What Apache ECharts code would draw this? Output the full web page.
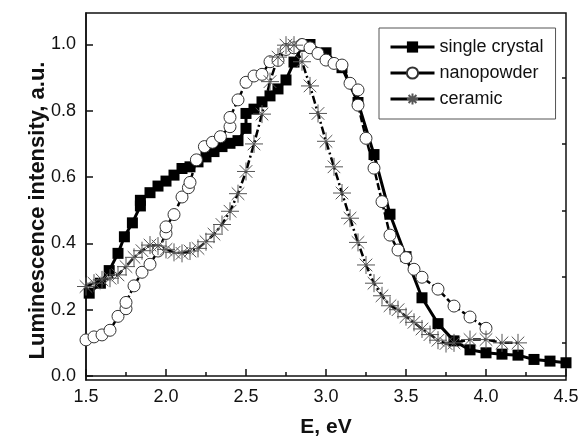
<!DOCTYPE html>
<html>
<head>
<meta charset="utf-8">
<script src="https://cdn.jsdelivr.net/npm/echarts@6/dist/echarts.min.js"></script>
<style>
  html, body { margin: 0; padding: 0; background: #fff; }
  #chart { width: 582px; height: 436px; }
</style>
</head>
<body>
<div id="chart"></div>
<script>
// single crystal
var scX = [1.52, 1.59, 1.645, 1.70, 1.74, 1.79, 1.84, 1.84, 1.90, 1.95, 2.0, 2.05, 2.10, 2.15, 2.20, 2.25, 2.30, 2.35, 2.40, 2.45, 2.50, 2.50, 2.55, 2.60, 2.65, 2.70, 2.75, 2.80, 2.85, 2.90, 3.0, 3.1, 3.2, 3.3, 3.4, 3.5, 3.6, 3.7, 3.8, 3.9, 4.0, 4.1, 4.2, 4.3, 4.4, 4.5];
var scY = [0.25, 0.28, 0.318, 0.37, 0.42, 0.462, 0.513, 0.53, 0.553, 0.573, 0.588, 0.606, 0.626, 0.631, 0.646, 0.661, 0.677, 0.692, 0.702, 0.71, 0.747, 0.792, 0.805, 0.827, 0.845, 0.866, 0.893, 0.947, 0.995, 1.0, 0.975, 0.93, 0.825, 0.668, 0.488, 0.36, 0.236, 0.158, 0.106, 0.079, 0.07, 0.066, 0.063, 0.05, 0.045, 0.04];
// nanopowder
var npX = [1.5, 1.55, 1.6, 1.65, 1.7, 1.75, 1.75, 1.8, 1.85, 1.9, 1.95, 2.0, 2.0, 2.05, 2.1, 2.14, 2.15, 2.19, 2.24, 2.29, 2.34, 2.4, 2.4, 2.45, 2.5, 2.55, 2.6, 2.65, 2.7, 2.75, 2.8, 2.85, 2.9, 2.95, 3.0, 3.05, 3.1, 3.15, 3.2, 3.2, 3.25, 3.3, 3.35, 3.4, 3.45, 3.5, 3.55, 3.6, 3.7, 3.8, 3.9, 4.0];
var npY = [0.109, 0.118, 0.124, 0.138, 0.18, 0.203, 0.222, 0.272, 0.313, 0.337, 0.377, 0.43, 0.45, 0.487, 0.54, 0.568, 0.584, 0.652, 0.692, 0.705, 0.722, 0.752, 0.78, 0.833, 0.886, 0.905, 0.91, 0.948, 0.952, 0.985, 0.99, 1.0, 0.99, 0.973, 0.953, 0.943, 0.938, 0.883, 0.863, 0.817, 0.717, 0.627, 0.526, 0.425, 0.38, 0.357, 0.322, 0.298, 0.262, 0.211, 0.178, 0.144];
// ceramic
var ceX = [1.5, 1.55, 1.6, 1.65, 1.7, 1.75, 1.8, 1.85, 1.9, 1.95, 2.0, 2.05, 2.1, 2.15, 2.2, 2.25, 2.3, 2.35, 2.4, 2.45, 2.5, 2.55, 2.6, 2.65, 2.7, 2.75, 2.8, 2.85, 2.9, 2.95, 3.0, 3.05, 3.1, 3.15, 3.2, 3.25, 3.3, 3.35, 3.4, 3.45, 3.5, 3.55, 3.6, 3.65, 3.7, 3.75, 3.8, 3.9, 4.0, 4.1, 4.2];
var ceY = [0.27, 0.28, 0.29, 0.295, 0.305, 0.33, 0.358, 0.378, 0.395, 0.392, 0.382, 0.373, 0.37, 0.377, 0.385, 0.405, 0.428, 0.457, 0.497, 0.55, 0.617, 0.70, 0.79, 0.888, 0.962, 0.998, 0.998, 0.948, 0.875, 0.792, 0.708, 0.631, 0.552, 0.476, 0.403, 0.335, 0.28, 0.242, 0.212, 0.2, 0.179, 0.162, 0.142, 0.125, 0.108, 0.098, 0.1, 0.11, 0.11, 0.1, 0.1];

var yTicks = [0, 0.2, 0.4, 0.6, 0.8, 1.0];
var yMinorTicks = [0.1, 0.3, 0.5, 0.7, 0.9];

function pairs(xs, ys) {
  return xs.map(function (x, i) { return [x, ys[i]]; });
}

var font = "'Liberation Sans', Arial, sans-serif";
// asterisk marker, 8 arms
var star = "path://M0,-10L0,10M-10,0L10,0M-7,-7L7,7M-7,7L7,-7";

var myChart = echarts.init(document.getElementById("chart"));
myChart.setOption({
  animation: false,
  textStyle: { fontFamily: font, color: "#111" },
  grid: {
    left: 86, right: 16, top: 13, bottom: 56,
    outerBoundsMode: "none",
    show: true, borderColor: "#111", borderWidth: 1.5
  },
  legend: {
    orient: "vertical",
    left: 379, top: 28,
    padding: [10, 12, 11, 10],
    itemGap: 8,
    itemWidth: 44, itemHeight: 14,
    itemTextGap: 8,
    backgroundColor: "#fff",
    borderColor: "#555", borderWidth: 1,
    lineStyle: { type: "solid", width: 3, color: "#000" },
    textStyle: { fontSize: 18, color: "#111", fontFamily: font },
    data: ["single crystal", "nanopowder", "ceramic"]
  },
  xAxis: {
    type: "value",
    min: 1.5, max: 4.5, interval: 0.5,
    name: "E, eV",
    nameLocation: "middle",
    nameGap: 37,
    nameMoveOverlap: false,
    nameTextStyle: { fontSize: 21, fontWeight: "bold", color: "#111" },
    axisLine: { lineStyle: { color: "#111", width: 1.5 } },
    axisTick: { inside: true, length: 7, lineStyle: { color: "#111", width: 1.5 } },
    minorTick: { show: true, splitNumber: 2, length: 4, lineStyle: { color: "#111", width: 1.5 } },
    axisLabel: {
      fontSize: 18, color: "#111", margin: 8,
      formatter: function (v) { return v.toFixed(1); }
    },
    splitLine: { show: false }
  },
  yAxis: [
    {
      type: "value",
      min: -0.012, max: 1.095,
      name: "Luminescence intensity, a.u.",
      nameLocation: "middle",
      nameGap: 37,
      nameMoveOverlap: false,
      nameTextStyle: { fontSize: 22, fontWeight: "bold", color: "#111", padding: [0, 28, 0, 0] },
      axisLine: { lineStyle: { color: "#111", width: 1.5 } },
      axisTick: { inside: true, length: 7, customValues: yTicks, lineStyle: { color: "#111", width: 1.5 } },
      axisLabel: {
        fontSize: 18, color: "#111", margin: 10,
        customValues: yTicks,
        formatter: function (v) { return v.toFixed(1); }
      },
      splitLine: { show: false }
    },
    {
      // minor ticks only
      type: "value",
      min: -0.012, max: 1.095,
      axisLine: { show: false },
      axisTick: { inside: true, length: 4, customValues: yMinorTicks, lineStyle: { color: "#111", width: 1.5 } },
      axisLabel: { show: false },
      splitLine: { show: false }
    }
  ],
  series: [
    {
      name: "single crystal",
      type: "line",
      data: pairs(scX, scY),
      symbol: "rect",
      symbolSize: 11,
      itemStyle: { color: "#000" },
      lineStyle: { color: "#000", width: 3 }
    },
    {
      name: "nanopowder",
      type: "line",
      data: pairs(npX, npY),
      symbol: "circle",
      symbolSize: 12,
      itemStyle: { color: "#fff", borderColor: "#333", borderWidth: 1 },
      lineStyle: { color: "#000", width: 2.5, type: [7, 3] }
    },
    {
      name: "ceramic",
      type: "line",
      data: pairs(ceX, ceY),
      symbol: star,
      symbolSize: 18,
      itemStyle: { color: "none", borderColor: "#555", borderWidth: 1 },
      lineStyle: { color: "#000", width: 2.5, type: [8, 3, 2, 3] }
    }
  ]
});
</script>
</body>
</html>
